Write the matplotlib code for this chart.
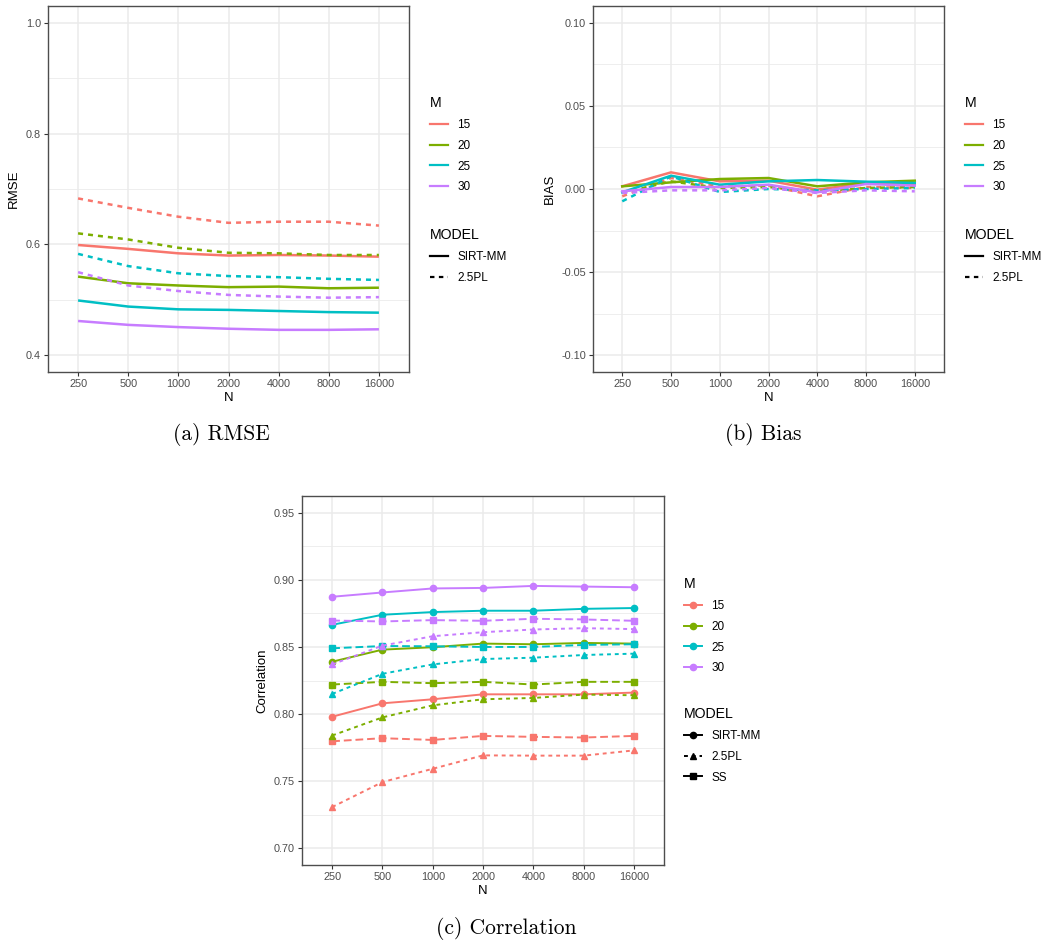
import matplotlib
matplotlib.use("Agg")
import matplotlib.pyplot as plt
from matplotlib.lines import Line2D
import numpy as np

plt.rcParams['font.family'] = ['Liberation Sans', 'DejaVu Sans']

# ---------------- data ----------------
N_labels = ['250', '500', '1000', '2000', '4000', '8000', '16000']
M_levels = ['15', '20', '25', '30']
colors = ['#F8766D', '#7CAE00', '#00BFC4', '#C77CFF']

# RMSE, rows ordered by M = 15, 20, 25, 30
rmse_sirt = [
    [0.599, 0.592, 0.584, 0.580, 0.581, 0.580, 0.578],
    [0.542, 0.530, 0.526, 0.523, 0.524, 0.521, 0.522],
    [0.499, 0.488, 0.483, 0.482, 0.480, 0.478, 0.477],
    [0.462, 0.455, 0.451, 0.448, 0.446, 0.446, 0.447],
]
rmse_25pl = [
    [0.683, 0.666, 0.650, 0.639, 0.641, 0.641, 0.634],
    [0.620, 0.609, 0.594, 0.585, 0.584, 0.581, 0.581],
    [0.583, 0.561, 0.548, 0.543, 0.541, 0.538, 0.536],
    [0.550, 0.526, 0.516, 0.509, 0.506, 0.504, 0.505],
]

# Bias
bias_sirt = [
    [0.0016, 0.0100, 0.0046, 0.0050, -0.0004, 0.0036, 0.0030],
    [0.0016, 0.0040, 0.0060, 0.0066, 0.0016, 0.0040, 0.0050],
    [-0.0020, 0.0080, 0.0026, 0.0046, 0.0054, 0.0044, 0.0036],
    [-0.0014, 0.0012, 0.0012, 0.0026, -0.0020, 0.0030, 0.0020],
]
bias_25pl = [
    [-0.0044, 0.0066, 0.0016, 0.0020, -0.0044, 0.0012, 0.0006],
    [-0.0024, 0.0046, 0.0006, 0.0012, -0.0014, 0.0006, 0.0012],
    [-0.0074, 0.0076, -0.0018, 0.0000, -0.0008, 0.0000, 0.0006],
    [-0.0024, -0.0008, -0.0008, 0.0006, -0.0024, -0.0008, -0.0014],
]

# Correlation
corr_sirt = [
    [0.798, 0.808, 0.811, 0.8147, 0.8147, 0.8147, 0.816],
    [0.839, 0.848, 0.8498, 0.8525, 0.852, 0.853, 0.8525],
    [0.8665, 0.874, 0.876, 0.877, 0.877, 0.8784, 0.879],
    [0.8874, 0.8906, 0.8936, 0.894, 0.8955, 0.895, 0.8945],
]
corr_25pl = [
    [0.7307, 0.7493, 0.7592, 0.7692, 0.769, 0.769, 0.7729],
    [0.784, 0.7975, 0.8065, 0.811, 0.812, 0.8145, 0.814],
    [0.815, 0.830, 0.837, 0.841, 0.842, 0.844, 0.845],
    [0.837, 0.851, 0.858, 0.861, 0.863, 0.864, 0.8633],
]
corr_ss = [
    [0.7797, 0.782, 0.7807, 0.7837, 0.783, 0.7825, 0.7837],
    [0.822, 0.824, 0.823, 0.824, 0.822, 0.824, 0.824],
    [0.849, 0.8507, 0.8505, 0.850, 0.850, 0.8515, 0.852],
    [0.8697, 0.869, 0.870, 0.8695, 0.871, 0.8705, 0.8695],
]

# ---------------- style ----------------
W, H = 1050, 949
fig = plt.figure(figsize=(W / 100, H / 100), dpi=100)

GRID = '#EBEBEB'
BORDER = '#4D4D4D'
TICKC = '#4D4D4D'


def px_axes(l, t, r, b):
    return fig.add_axes([l / W, 1 - b / H, (r - l) / W, (b - t) / H])


def style_axes(ax, ymin, ymax, major, minor, ylabel, fmt):
    x = np.arange(len(N_labels))
    ax.set_xlim(-0.6, len(N_labels) - 1 + 0.6)
    pad = (ymax - ymin) * 0.05
    ax.set_ylim(ymin - pad, ymax + pad)
    ax.set_xticks(x)
    ax.set_xticklabels(N_labels)
    ax.set_yticks(major)
    ax.set_yticklabels([fmt.format(v) for v in major])
    ax.set_yticks(minor, minor=True)
    ax.grid(True, which='major', color=GRID, lw=1.1, zorder=0)
    ax.grid(True, which='minor', axis='y', color=GRID, lw=0.6, zorder=0)
    ax.set_axisbelow(True)
    ax.tick_params(which='major', length=3, width=0.8, color='#333333',
                   labelcolor=TICKC, labelsize=7.8, pad=2)
    ax.tick_params(which='minor', length=0)
    for s in ax.spines.values():
        s.set_color(BORDER)
        s.set_linewidth(1.0)
    ax.set_xlabel('N', fontsize=9.5, labelpad=2)
    ax.set_ylabel(ylabel, fontsize=9.5, labelpad=4)


def add_legends(ax, x0, y_m, y_model, model_entries, with_points):
    m_handles = []
    for c, m in zip(colors, M_levels):
        if with_points:
            m_handles.append(Line2D([], [], color=c, lw=1.4, marker='o', ms=4.5, label=m))
        else:
            m_handles.append(Line2D([], [], color=c, lw=1.6, label=m))
    fig.legend(handles=m_handles, title='M', loc='upper left',
               bbox_to_anchor=(x0 / W, 1 - y_m / H), frameon=False,
               fontsize=8.5, title_fontsize=10.2, handlelength=1.5,
               handletextpad=0.8, labelspacing=0.75, borderpad=0,
               borderaxespad=0, alignment='left')
    mod_handles = []
    for lab, ls, mk in model_entries:
        if with_points:
            mod_handles.append(Line2D([], [], color='black', lw=1.4, linestyle=ls,
                                      marker=mk, ms=4.5, label=lab))
        else:
            mod_handles.append(Line2D([], [], color='black', lw=1.6, linestyle=ls, label=lab))
    fig.legend(handles=mod_handles, title='MODEL', loc='upper left',
               bbox_to_anchor=(x0 / W, 1 - y_model / H), frameon=False,
               fontsize=8.5, title_fontsize=10.2, handlelength=1.5,
               handletextpad=0.8, labelspacing=0.75, borderpad=0,
               borderaxespad=0, alignment='left')


x = np.arange(len(N_labels))
DASH22 = (0, (2, 2))
DASH42 = (0, (4, 2))

# ---------------- (a) RMSE ----------------
axa = px_axes(48, 6, 409, 372)
style_axes(axa, 0.4, 1.0, [0.4, 0.6, 0.8, 1.0], [0.5, 0.7, 0.9], 'RMSE', '{:.1f}')
for i, c in enumerate(colors):
    axa.plot(x, rmse_sirt[i], color=c, lw=1.8, solid_capstyle='butt', zorder=3)
    axa.plot(x, rmse_25pl[i], color=c, lw=1.8, linestyle=DASH22, zorder=3)
add_legends(axa, 430, 96, 228, [('SIRT-MM', '-', None), ('2.5PL', DASH22, None)], False)

# ---------------- (b) Bias ----------------
axb = px_axes(593, 6, 944, 372)
style_axes(axb, -0.1, 0.1, [-0.1, -0.05, 0.0, 0.05, 0.1],
           [-0.075, -0.025, 0.025, 0.075], 'BIAS', '{:.2f}')
for i, c in enumerate(colors):
    axb.plot(x, bias_sirt[i], color=c, lw=1.8, zorder=3)
    axb.plot(x, bias_25pl[i], color=c, lw=1.8, linestyle=DASH22, zorder=3)
add_legends(axb, 965, 96, 228, [('SIRT-MM', '-', None), ('2.5PL', DASH22, None)], False)

# ---------------- (c) Correlation ----------------
axc = px_axes(302, 496, 664, 865)
style_axes(axc, 0.70, 0.95, [0.70, 0.75, 0.80, 0.85, 0.90, 0.95],
           [0.725, 0.775, 0.825, 0.875, 0.925], 'Correlation', '{:.2f}')
for i, c in enumerate(colors):
    axc.plot(x, corr_sirt[i], color=c, lw=1.4, marker='o', ms=4.5, zorder=3)
    axc.plot(x, corr_25pl[i], color=c, lw=1.4, linestyle=DASH22, marker='^', ms=5, zorder=3)
    axc.plot(x, corr_ss[i], color=c, lw=1.4, linestyle=DASH42, marker='s', ms=4.5, zorder=3)
add_legends(axc, 684, 577, 707,
            [('SIRT-MM', '-', 'o'), ('2.5PL', DASH22, '^'), ('SS', '-', 's')], True)

# ---------------- captions ----------------
cap_font = dict(family=['cmr10', 'DejaVu Serif'], fontsize=15.5, ha='center', va='center')
fig.text(221 / W, 1 - 434 / H, '(a) RMSE', **cap_font)
fig.text(763 / W, 1 - 434 / H, '(b) Bias', **cap_font)
fig.text(506 / W, 1 - 928 / H, '(c) Correlation', **cap_font)

fig.savefig('out.png', dpi=100)
